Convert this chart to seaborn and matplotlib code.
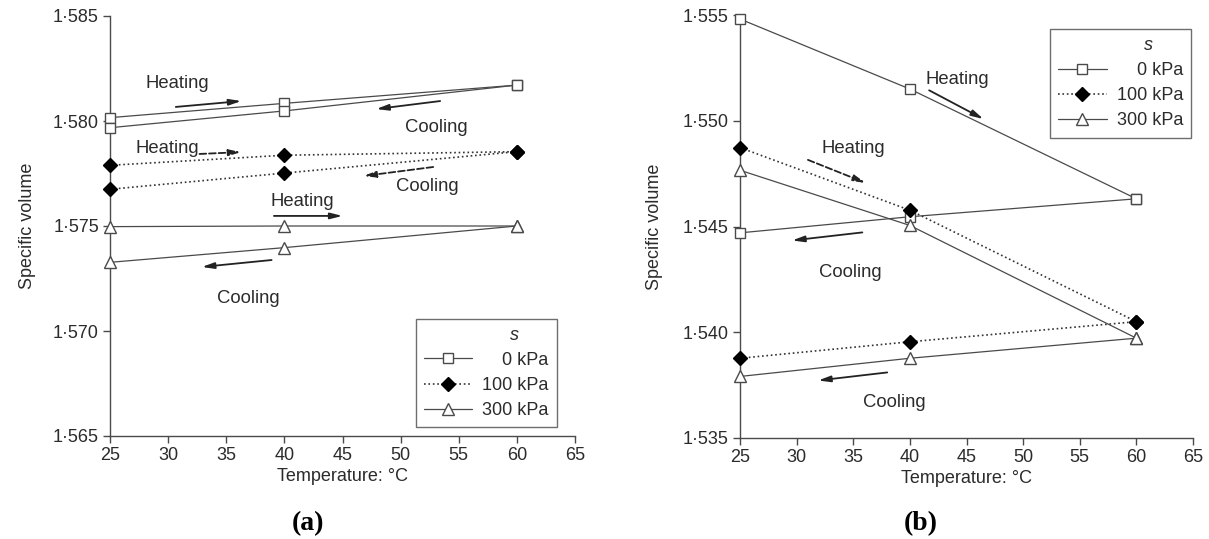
import matplotlib
matplotlib.use("Agg")
import matplotlib.pyplot as plt
import seaborn as sns
import pandas as pd
from matplotlib.lines import Line2D
from matplotlib.ticker import FixedLocator, FixedFormatter

# ---------------- data ----------------
temps = [25, 40, 60]
series_labels = ["0 kPa", "100 kPa", "300 kPa"]

# panel (a)
a_0_heat = [1.58016, 1.58084, 1.58171]
a_0_cool = [1.57968, 1.58048, 1.58171]
a_100_heat = [1.57789, 1.57837, 1.57854]
a_100_cool = [1.57675, 1.57752, 1.57854]
a_300_heat = [1.57497, 1.57500, 1.57500]
a_300_cool = [1.57327, 1.57397, 1.57500]

# panel (b)
b_0_heat = [1.55481, 1.55150, 1.54631]
b_0_cool = [1.54470, 1.54546, 1.54631]
b_100_heat = [1.54873, 1.54577, 1.54050]
b_100_cool = [1.53877, 1.53955, 1.54050]
b_300_heat = [1.54766, 1.54505, 1.53972]
b_300_cool = [1.53791, 1.53877, 1.53972]

x_ticks = [25, 30, 35, 40, 45, 50, 55, 60, 65]
a_yticks = [1.565, 1.570, 1.575, 1.580, 1.585]
a_yticklabels = ["1·565", "1·570", "1·575", "1·580", "1·585"]
b_yticks = [1.535, 1.540, 1.545, 1.550, 1.555]
b_yticklabels = ["1·535", "1·540", "1·545", "1·550", "1·555"]

# ---------------- style ----------------
sns.set_theme(style="ticks")
plt.rcParams['font.family'] = ['Liberation Sans', 'DejaVu Sans']
DARK = "#4a4a4a"
TXT = "#2b2b2b"
FS = 13

fig = plt.figure(figsize=(12.09, 5.39), dpi=100)
axA = fig.add_axes([110 / 1209, 1 - 436 / 539, 465 / 1209, 420 / 539])
axB = fig.add_axes([740 / 1209, 1 - 438 / 539, 453 / 1209, 423 / 539])

styles = [
    dict(marker="s", markersize=7.3, markerfacecolor="white", markeredgecolor=DARK,
         linestyle="-", color=DARK, lw=0.9),
    dict(marker="D", markersize=7.2, markerfacecolor="black", markeredgecolor="black",
         linestyle=":", color="#333333", lw=1.2),
    dict(marker="^", markersize=8.5, markerfacecolor="white", markeredgecolor=DARK,
         linestyle="-", color=DARK, lw=0.9),
]


def draw(ax, heat_list, cool_list):
    for i, (h, c) in enumerate(zip(heat_list, cool_list)):
        st = styles[i]
        for vals in (h, c):
            df = pd.DataFrame({"T": temps, "v": vals})
            sns.lineplot(data=df, x="T", y="v", ax=ax, sort=False,
                         marker=st["marker"], markersize=st["markersize"],
                         markerfacecolor=st["markerfacecolor"],
                         markeredgecolor=st["markeredgecolor"],
                         markeredgewidth=1.0, linestyle=st["linestyle"],
                         color=st["color"], linewidth=st["lw"], clip_on=False,
                         zorder=3)


def fmt_axes(ax, yticks, ylabels):
    ax.set_xlim(25, 65)
    ax.set_ylim(yticks[0], yticks[-1])
    ax.xaxis.set_major_locator(FixedLocator(x_ticks))
    ax.yaxis.set_major_locator(FixedLocator(yticks))
    ax.yaxis.set_major_formatter(FixedFormatter(ylabels))
    ax.set_xticklabels([str(t) for t in x_ticks])
    for s in ("top", "right"):
        ax.spines[s].set_visible(False)
    for s in ("left", "bottom"):
        ax.spines[s].set_color(DARK)
        ax.spines[s].set_linewidth(1.0)
    ax.tick_params(direction="out", length=5, width=1.0, color=DARK,
                   labelsize=FS, labelcolor=TXT, pad=3)
    ax.set_xlabel("Temperature: °C", fontsize=FS, color=TXT, labelpad=3)
    ax.set_ylabel("Specific volume", fontsize=FS, color=TXT, labelpad=12)
    ax.patch.set_alpha(0)


def legend(ax, loc, bbox):
    handles = []
    for st in styles:
        handles.append(Line2D([], [], marker=st["marker"],
                              markersize=st["markersize"] - 0.5,
                              markerfacecolor=st["markerfacecolor"],
                              markeredgecolor=st["markeredgecolor"],
                              linestyle=st["linestyle"], color=st["color"],
                              linewidth=st["lw"]))
    labels = ["\u2007\u20070 kPa", "100 kPa", "300 kPa"]
    leg = ax.legend(handles, labels, title="s\u2007\u2007\u2007", loc=loc,
                    bbox_to_anchor=bbox,
                    fancybox=False, frameon=True, edgecolor=DARK,
                    fontsize=FS, title_fontsize=FS, handlelength=2.7,
                    borderpad=0.45, labelspacing=0.45, handletextpad=0.55,
                    borderaxespad=0.0, alignment="right")
    leg.get_frame().set_linewidth(1.0)
    leg.get_title().set_fontstyle("italic")
    leg.get_title().set_color(TXT)
    for t in leg.get_texts():
        t.set_color(TXT)


def arrow(ax, start, end, dashed=False):
    ax.annotate("", xy=end, xytext=start,
                arrowprops=dict(arrowstyle="-|>,head_length=0.6,head_width=0.15",
                                color="#222222", lw=1.3,
                                linestyle="--" if dashed else "-",
                                shrinkA=0, shrinkB=0))


def label(ax, x, y, s):
    ax.text(x, y, s, fontsize=13.3, color=TXT, ha="center", va="center")


# ---------------- panel (a) ----------------
draw(axA, [a_0_heat, a_100_heat, a_300_heat], [a_0_cool, a_100_cool, a_300_cool])
fmt_axes(axA, a_yticks, a_yticklabels)
legend(axA, "lower right", (0.961, 0.021))

label(axA, 30.8, 1.5818, "Heating")
arrow(axA, (30.66, 1.58067), (36.3, 1.58095))
arrow(axA, (53.4, 1.58095), (47.9, 1.58057))
label(axA, 53.1, 1.57967, "Cooling")
label(axA, 29.9, 1.57871, "Heating")
arrow(axA, (32.7, 1.57843), (36.3, 1.57852), dashed=True)
arrow(axA, (52.8, 1.57781), (46.8, 1.57738), dashed=True)
label(axA, 52.3, 1.57690, "Cooling")
label(axA, 41.5, 1.57619, "Heating")
arrow(axA, (39.1, 1.57548), (45.0, 1.57548))
arrow(axA, (38.9, 1.57338), (32.9, 1.57305))
label(axA, 36.9, 1.57157, "Cooling")

# ---------------- panel (b) ----------------
draw(axB, [b_0_heat, b_100_heat, b_300_heat], [b_0_cool, b_100_cool, b_300_cool])
fmt_axes(axB, b_yticks, b_yticklabels)
axB.yaxis.labelpad = 14
legend(axB, "upper right", (0.996, 0.967))

label(axB, 44.2, 1.55197, "Heating")
arrow(axB, (41.7, 1.55144), (46.5, 1.55008))
label(axB, 35.0, 1.54867, "Heating")
arrow(axB, (31.0, 1.54815), (36.1, 1.54706), dashed=True)
arrow(axB, (35.8, 1.54472), (29.6, 1.54434))
label(axB, 34.7, 1.54283, "Cooling")
arrow(axB, (38.0, 1.53810), (31.9, 1.53772))
label(axB, 38.6, 1.53668, "Cooling")

# panel letters
fig.text(308 / 1209, 1 - 524 / 539, "(a)", fontsize=20, fontweight="bold",
         family="Liberation Serif", ha="center", va="center", color="black")
fig.text(921 / 1209, 1 - 524 / 539, "(b)", fontsize=20, fontweight="bold",
         family="Liberation Serif", ha="center", va="center", color="black")

fig.savefig("out.png", dpi=100)
